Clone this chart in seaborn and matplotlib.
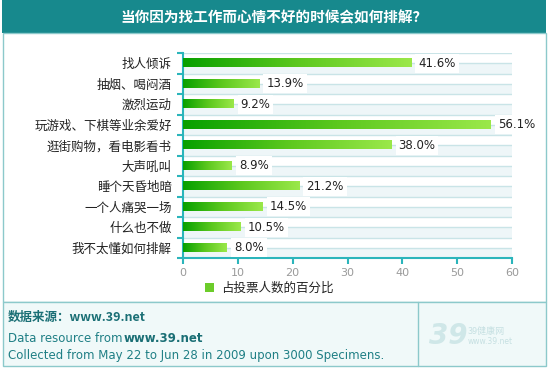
import numpy as np
import pandas as pd
import matplotlib
matplotlib.use("Agg")
import matplotlib.pyplot as plt
import seaborn as sns
from matplotlib.patches import Rectangle
from matplotlib.lines import Line2D

# data
categories = ['找人倾诉', '抽烟、喝闷酒', '激烈运动', '玩游戏、下棋等业余爱好',
              '逛街购物，看电影看书', '大声吼叫', '睡个天昏地暗', '一个人痛哭一场',
              '什么也不做', '我不太懂如何排解']
percent = [41.6, 13.9, 9.2, 56.1, 38.0, 8.9, 21.2, 14.5, 10.5, 8.0]
x_ticks = [0, 10, 20, 30, 40, 50, 60]
title = '当你因为找工作而心情不好的时候会如何排解？'
legend_label = '占投票人数的百分比'

df = pd.DataFrame({'cat': categories, 'pct': percent})

sns.set_theme(style='white')
plt.rcParams['font.family'] = ['Noto Sans CJK SC', 'DejaVu Sans']

TEAL = '#17898d'
AXIS = '#2bb5bb'
BORDER = '#8cc9cb'
GRID = '#c9e4e7'
BAND = '#eef6f8'

W, H = 550, 368
fig = plt.figure(figsize=(W / 100, H / 100), dpi=100)
fig.patch.set_facecolor('white')


def px_rect(x0, y0, x1, y1, zorder=-5, **kw):
    # rectangle given in pixel coords (origin top-left)
    return Rectangle((x0 / W, 1 - y1 / H), (x1 - x0) / W, (y1 - y0) / H,
                     transform=fig.transFigure, zorder=zorder, **kw)


# title bar, panels and footer
fig.patches.append(px_rect(2, 0, 546, 33, facecolor=TEAL, edgecolor='none'))
fig.patches.append(px_rect(2.5, 33, 545.5, 302, facecolor='white', edgecolor=BORDER, lw=1))
fig.patches.append(px_rect(2.5, 302, 545.5, 366, facecolor='#f0f9f9', edgecolor=BORDER, lw=1))
fig.add_artist(Line2D([418 / W, 418 / W], [1 - 302 / H, 1 - 366 / H], color=BORDER, lw=1,
                      transform=fig.transFigure))
fig.text(274 / W, 1 - 17 / H, title, color='white', fontsize=10.5, fontweight='bold',
         ha='center', va='center')

# main axes
ax = fig.add_axes([183 / W, 1 - 258 / H, 329 / W, 205 / H])
ax.set_zorder(2)
ax.set_facecolor('none')
sns.barplot(data=df, x='pct', y='cat', orient='h', width=0.4, color='#3cb81a',
            errorbar=None, ax=ax, zorder=3)

n = len(categories)

# gradient fill on the bars (image sized to each bar)
grad = np.linspace(0, 1, 256).reshape(1, -1)
cmap = matplotlib.colors.LinearSegmentedColormap.from_list('g', ['#07a000', '#5cc81e', '#9be84a'])
for p in ax.containers[0]:
    x0, y0 = p.get_x(), p.get_y()
    w, h = p.get_width(), p.get_height()
    ax.imshow(grad, extent=[x0, x0 + w, y0 + h, y0], aspect='auto', cmap=cmap,
              zorder=3, interpolation='bilinear')
    p.set_visible(False)

# background stripes and lines
for i in range(n):
    ax.axhspan(i, i + 0.5, color=BAND, zorder=0, lw=0)
    ax.axhline(i, color=GRID, lw=1, zorder=1)
    ax.axhline(i - 0.5, color=GRID, lw=1, zorder=1)
ax.axhline(n - 0.5, color=GRID, lw=1, zorder=1)

ax.set_xlim(0, 60)
ax.set_ylim(n - 0.5, -0.5)

# value labels
for i, v in enumerate(percent):
    ax.text(v + 1.3, i, f'{v:.1f}%', va='center', ha='left', fontsize=8.5, color='#222222',
            family='DejaVu Sans', zorder=4,
            bbox=dict(boxstyle='square,pad=0.25', facecolor='white', edgecolor='none'))

# axes styling
for s in ['top', 'right']:
    ax.spines[s].set_visible(False)
for s in ['left', 'bottom']:
    ax.spines[s].set_color(AXIS)
    ax.spines[s].set_linewidth(1.5)
ax.set_xlabel('')
ax.set_ylabel('')
ax.set_xticks(x_ticks)
ax.set_xticklabels([str(t) for t in x_ticks], color='#9a9a9a', fontsize=8, family='DejaVu Sans')
ax.tick_params(axis='x', direction='out', length=4, width=1.5, color=AXIS, pad=3, bottom=True)
ax.set_yticks(range(n))
ax.set_yticklabels(categories, fontsize=9, color='#222222')
ax.set_yticks(np.arange(-0.5, n, 1), minor=True)
ax.tick_params(axis='y', which='major', length=0, pad=8)
ax.tick_params(axis='y', which='minor', direction='out', length=4, width=1.5, color=AXIS, left=True)

# legend
fig.patches.append(px_rect(205, 283, 214, 292, zorder=3, facecolor='#6ccc2a', edgecolor='none'))
fig.text(221 / W, 1 - 288 / H, legend_label, fontsize=9, color='#222222', va='center')

# footer text
FT = '#1f7f85'
fig.text(8 / W, 1 - 317 / H, '数据来源：www.39.net', fontsize=9, fontweight='bold',
         color='#1a6f75', va='center')
fig.text(8 / W, 1 - 338 / H, 'Data resource from', fontsize=8.5, color=FT, va='center',
         family='DejaVu Sans')
fig.text(124 / W, 1 - 338 / H, 'www.39.net', fontsize=8.5, fontweight='bold', color='#1a6f75',
         va='center', family='DejaVu Sans')
fig.text(8 / W, 1 - 355 / H, 'Collected from May 22 to Jun 28 in 2009 upon 3000 Specimens.',
         fontsize=8.5, color=FT, va='center', family='DejaVu Sans')

# faint logo
fig.text(448 / W, 1 - 336 / H, '39', fontsize=20, fontweight='bold', style='italic',
         color='#cfe7e8', va='center', ha='center', family='DejaVu Sans')
fig.text(468 / W, 1 - 331 / H, '39健康网', fontsize=6.5, color='#c6e0e2', va='center')
fig.text(468 / W, 1 - 341 / H, 'www.39.net', fontsize=5.5, color='#c6e0e2', va='center',
         family='DejaVu Sans')

fig.savefig('out.png', dpi=100)
